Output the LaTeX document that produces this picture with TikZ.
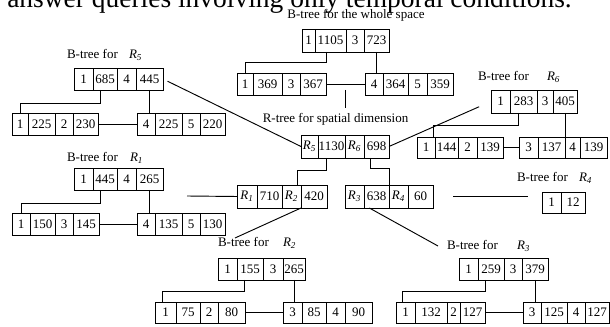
\documentclass[tikz,border=0pt]{standalone}
\usepackage{fontspec}
\setmainfont{Liberation Serif}
\newcommand\Rsub[1]{\textit{R}\textsubscript{\textit{#1}}}
\tikzset{
  cell/.style={draw, line width=0.7pt, inner sep=0pt, outer sep=0pt, font=\fontsize{9.75}{11}\selectfont},
  link/.style={line width=0.7pt},
  lbl/.style={inner sep=0pt, outer sep=0pt, font=\fontsize{9.75}{11}\selectfont, anchor=base west},
}
% #1 name, #2 top, #3 bottom, #4 list xleft/xright/text
\newcommand\cellrow[4]{%
  \foreach \xa/\xb/\txt [count=\i] in {#4}{%
    \node[cell, minimum width={(\xb-\xa)*0.75pt}, minimum height={(#3-#2)*0.75pt}] (#1-\i) at ({(\xa+\xb)/2},{(#2+#3)/2}) {\txt};
  }%
}
\begin{document}
\begin{tikzpicture}[x=0.75pt,y=-0.75pt]
\useasboundingbox (0,0) rectangle (610,327);
\clip (0,0) rectangle (610,327);
% clipped line of running text above the figure
\node[inner sep=0pt, anchor=base west, font=\fontsize{20.6}{24}\selectfont] (toptext) at (7,8) {answer queries involving only temporal conditions.};

% ---- B-tree for the whole space
\node[lbl, anchor=base] (wlabel) at (356,19) {B-tree for the whole space};
\cellrow{wt}{29}{52}{302/315/1, 315/346/1105, 346/364/3, 364/389/723}
\cellrow{wl}{73}{95}{237/253/1, 253/282/369, 282/300/3, 300/326/367}
\cellrow{wr}{73}{95}{365/383/4, 383/408/364, 408/427/5, 427/453/359}
\draw[link] ([xshift=-3pt]wt-2.south) -- ++(0,10) -| (wl-1.north);
\draw[link] (wt-4.south) -- (wt-4.south |- wr-1.north);
\draw[link] (wl-4.east) -- (wr-1.west);
\coordinate (stubtop) at (345,90);
\coordinate (stubbot) at (345,108);
\draw[link] (stubtop) -- (stubbot);

% ---- R-tree
\node[lbl, anchor=base] (rlabel) at (335.5,123) {R-tree for spatial dimension};
\cellrow{rt}{135}{158}{301/318/{\Rsub{5}}, 318/345/1130, 345/364/{\Rsub{6}}, 364/389/698}
\cellrow{ra}{185}{208}{237/257/{\Rsub{1}}, 257/282/710, 282/301/{\Rsub{2}}, 301/327/420}
\cellrow{rb}{185}{208}{345/364/{\Rsub{3}}, 364/389/638, 389/408/{\Rsub{4}}, 408/433/60}
\draw[link] ([xshift=-3.5pt]rt-2.south) -- ++(0,12) -| ([xshift=-3pt]ra-3.north east);
\draw[link] ([xshift=-4.5pt]rt-4.south) -- ++(0,10) -| (rb-2.north east);

% ---- B-tree for R5
\node[lbl] (l5a) at (67,59) {B-tree for};
\node[lbl] (l5b) at (129,59) {\Rsub{5}};
\cellrow{bf}{68}{90}{74/93/1, 93/117/685, 117/136/4, 136/163/445}
\cellrow{bfl}{113}{135}{12/28/1, 28/55/225, 55/73/2, 73/98/230}
\cellrow{bfr}{113}{135}{137/155/4, 155/182/225, 182/200/5, 200/225/220}
\draw[link] ([xshift=-3.5pt]bf-2.south) -- ++(0,13) -| (bfl-1.north);
\draw[link] (bf-4.south) -- (bf-4.south |- bfr-1.north);
\draw[link] (bfl-4.east) -- (bfr-1.west);

% ---- B-tree for R6
\node[lbl] (l6a) at (478,81) {B-tree for};
\node[lbl] (l6b) at (547,81) {\Rsub{6}};
\cellrow{bs}{90}{113}{491/510/1, 510/537/283, 537/553/3, 553/577/405}
\cellrow{bsl}{137}{158}{417/435/1, 435/458/144, 458/477/2, 477/503/139}
\cellrow{bsr}{137}{158}{519/538/3, 538/565/137, 565/580/4, 580/607/139}
\draw[link] ([xshift=-4pt]bs-2.south) -- ++(0,12) -| ([xshift=-1.5pt]bsl-1.north east);
\draw[link] (bs-4.south) -- (bs-4.south |- bsr-1.north);
\draw[link] (bsl-4.east) -- (bsr-1.west);

% ---- B-tree for R1
\node[lbl] (l1a) at (67,162) {B-tree for};
\node[lbl] (l1b) at (130,162) {\Rsub{1}};
\cellrow{bo}{168}{190}{74/93/1, 93/117/445, 117/136/4, 136/163/265}
\cellrow{bol}{213}{235}{12/30/1, 30/55/150, 55/73/3, 73/99/145}
\cellrow{bor}{213}{235}{137/155/4, 155/182/135, 182/200/5, 200/225/130}
\draw[link] ([xshift=-3.5pt]bo-2.south) -- ++(0,13) -| (bol-1.north);
\draw[link] (bo-4.south) -- (bo-4.south |- bor-1.north);
\draw[link] (bol-4.east) -- (bor-1.west);

% ---- B-tree for R4
\node[lbl] (l4a) at (517,182) {B-tree for};
\node[lbl] (l4b) at (579,182) {\Rsub{4}};
\cellrow{bq}{192}{213}{542/561/1, 561/585/12}

% ---- B-tree for R2
\node[lbl] (l2a) at (218,247) {B-tree for};
\node[lbl] (l2b) at (283,247) {\Rsub{2}};
\cellrow{bt}{258}{280}{218/237/1, 237/263/155, 263/283/3, 283/305/265}
\cellrow{btl}{302}{323}{155/176/1, 176/200/75, 200/218/2, 218/245/80}
\cellrow{btr}{302}{323}{283/302/3, 302/326/85, 326/345/4, 345/372/90}
\draw[link] ([xshift=-4.5pt]bt-2.south) -- ++(0,11) -| ([xshift=-2.5pt]btl-1.north);
\draw[link] (bt-4.south) -- (bt-4.south |- btr-1.north);
\draw[link] (btl-4.east) -- (btr-1.west);

% ---- B-tree for R3
\node[lbl] (l3a) at (447,250) {B-tree for};
\node[lbl] (l3b) at (517,250) {\Rsub{3}};
\cellrow{bh}{258}{280}{459/478/1, 478/504/259, 504/522/3, 522/548/379}
\cellrow{bhl}{302}{323}{396/415/1, 415/447/132, 447/460/2, 460/485/127}
\cellrow{bhr}{302}{323}{523/541/3, 541/567/125, 567/585/4, 585/609/127}
\draw[link] ([xshift=-4.5pt]bh-2.south) -- ++(0,11) -| ([xshift=-2.5pt]bhl-1.north);
\draw[link] (bh-4.south) -- (bh-4.south |- bhr-1.north);
\draw[link] (bhl-4.east) -- (bhr-1.west);

% ---- links between the R-tree and the B-trees
\draw[link, shorten <=3.75pt] (bf-4.east) -- (rt-1.west);
\draw[link, shorten >=9.75pt] (rt-4.east) -- (bs-1.west);
\coordinate (r1end) at (187,196);
\draw[link] (r1end) -- (ra-1.west);
\draw[link, shorten <=15pt, shorten >=10.5pt] (rb-4.east) -- (rb-4.east -| bq-1.west);
\coordinate (r2end) at (235,238);
\draw[link] (ra-3.south east) -- (r2end);
\coordinate (r3end) at (438,246);
\draw[link] ([xshift=4pt]rb-2.south west) -- (r3end);
\end{tikzpicture}
\end{document}
